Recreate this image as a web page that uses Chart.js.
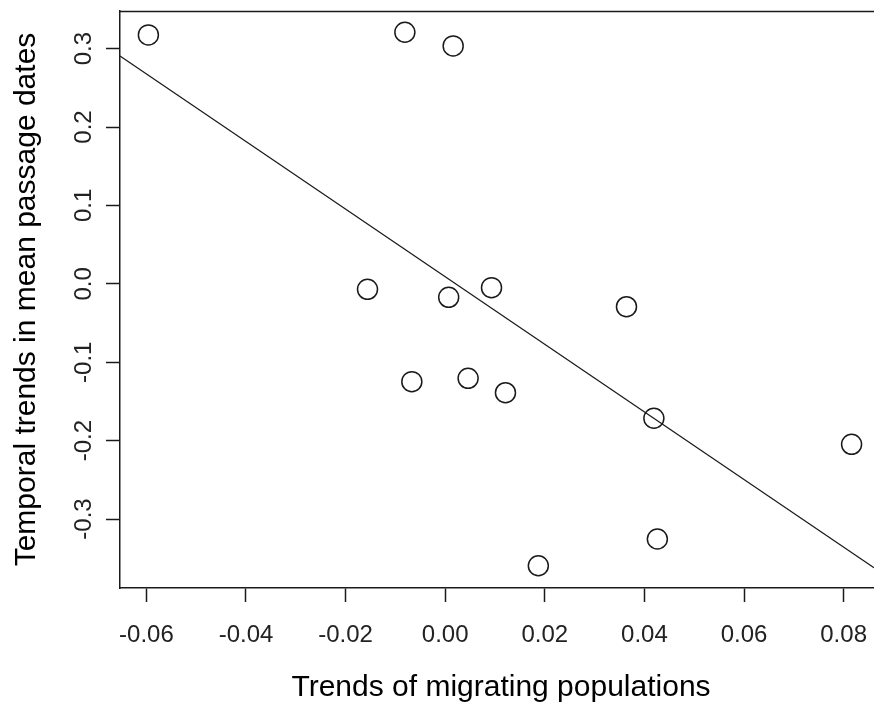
<!DOCTYPE html>
<html>
<head>
<meta charset="utf-8">
<script src="https://cdn.jsdelivr.net/npm/chart.js@4/dist/chart.umd.min.js"></script>
<style>
  html, body { margin: 0; padding: 0; background: #ffffff; overflow: hidden; }
  #wrap { width: 874px; height: 709px; position: relative; }
  canvas { display: block; }
</style>
</head>
<body>
<div id="wrap"><canvas id="chart" width="874" height="709"></canvas></div>
<script>
// Population trend (x) against trend in mean passage date (y), one point per species
const populationTrend = [-0.0596, -0.0081, 0.0016, -0.0156, 0.0007, 0.0093, 0.0364,
                         -0.0067, 0.0046, 0.0121, 0.0419, 0.0816, 0.0426, 0.0187];
const passageTrend    = [0.3175, 0.3209, 0.3035, -0.0070, -0.0172, -0.0049, -0.0292,
                         -0.1248, -0.1205, -0.1389, -0.1715, -0.2047, -0.3255, -0.3596];

// Least-squares fit line
const fitIntercept = 0.0091;
const fitSlope = -4.312;

// Axis ranges and ticks
const xRange = [-0.0653, 0.0861];
const yRange = [-0.388, 0.348];
const xTicks = [-0.06, -0.04, -0.02, 0.00, 0.02, 0.04, 0.06, 0.08];
const xTickLabels = ['-0.06', '-0.04', '-0.02', '0.00', '0.02', '0.04', '0.06', '0.08'];
const yTicks = [-0.3, -0.2, -0.1, 0.0, 0.1, 0.2, 0.3];
const yTickLabels = ['-0.3', '-0.2', '-0.1', '0.0', '0.1', '0.2', '0.3'];

const xTitle = 'Trends of migrating populations';
const yTitle = 'Temporal trends in mean passage dates';

const INK = '#1a1a1a';
const FONT = '"Liberation Sans", Arial, sans-serif';

const points = populationTrend.map((x, i) => ({ x: x, y: passageTrend[i] }));
const fitLine = xRange.map(x => ({ x: x, y: fitIntercept + fitSlope * x }));

// Tick labels, axis titles and the top edge of the plot box
const frame = {
  id: 'frame',
  afterDraw(chart) {
    const ctx = chart.ctx;
    const area = chart.chartArea;
    const xs = chart.scales.x, ys = chart.scales.y;
    ctx.save();
    // top edge of the box
    ctx.strokeStyle = INK;
    ctx.lineWidth = 1.5;
    ctx.beginPath();
    ctx.moveTo(area.left, area.top + 0.5);
    ctx.lineTo(area.right + 10, area.top + 0.5);
    ctx.stroke();

    ctx.fillStyle = '#222';
    ctx.font = '24px ' + FONT;
    ctx.textBaseline = 'alphabetic';
    ctx.textAlign = 'center';
    xTicks.forEach((v, i) => {
      ctx.fillText(xTickLabels[i], xs.getPixelForValue(v), 642);
    });
    yTicks.forEach((v, i) => {
      ctx.save();
      ctx.translate(91, ys.getPixelForValue(v));
      ctx.rotate(-Math.PI / 2);
      ctx.fillText(yTickLabels[i], 0, 0);
      ctx.restore();
    });

    ctx.fillStyle = '#000';
    ctx.font = '30px ' + FONT;
    ctx.fillText(xTitle, 501, 696);
    ctx.save();
    ctx.translate(35, (area.top + area.bottom) / 2);
    ctx.rotate(-Math.PI / 2);
    ctx.fillText(yTitle, 0, 0);
    ctx.restore();
    ctx.restore();
  }
};

function noPadding(s) {
  s.paddingLeft = 0; s.paddingRight = 0; s.paddingTop = 0; s.paddingBottom = 0;
}

new Chart(document.getElementById('chart'), {
  type: 'scatter',
  data: {
    datasets: [
      {
        data: points,
        pointStyle: 'circle',
        pointRadius: 10,
        pointHoverRadius: 10,
        pointBorderWidth: 1.5,
        borderColor: INK,
        backgroundColor: 'rgba(0,0,0,0)'
      },
      {
        type: 'line',
        data: fitLine,
        borderColor: INK,
        borderWidth: 1.2,
        pointRadius: 0,
        fill: false,
        tension: 0
      }
    ]
  },
  options: {
    responsive: false,
    animation: false,
    events: [],
    layout: { autoPadding: false, padding: { left: 0, top: 11, right: 0, bottom: 0 } },
    plugins: { legend: { display: false }, tooltip: { enabled: false } },
    scales: {
      x: {
        type: 'linear',
        min: xRange[0],
        max: xRange[1],
        afterBuildTicks: s => { s.ticks = xTicks.map(v => ({ value: v })); },
        afterFit: s => { s.height = 709 - 588; noPadding(s); },
        ticks: { display: false },
        grid: { drawOnChartArea: false, drawTicks: true, tickLength: 14, tickWidth: 1.5, tickColor: INK },
        border: { display: true, color: INK, width: 1.5 }
      },
      y: {
        type: 'linear',
        min: yRange[0],
        max: yRange[1],
        afterBuildTicks: s => { s.ticks = yTicks.map(v => ({ value: v })); },
        afterFit: s => { s.width = 120; noPadding(s); },
        ticks: { display: false },
        grid: { drawOnChartArea: false, drawTicks: true, tickLength: 14, tickWidth: 1.5, tickColor: INK },
        border: { display: true, color: INK, width: 1.5 }
      }
    }
  },
  plugins: [frame]
});
</script>
</body>
</html>
